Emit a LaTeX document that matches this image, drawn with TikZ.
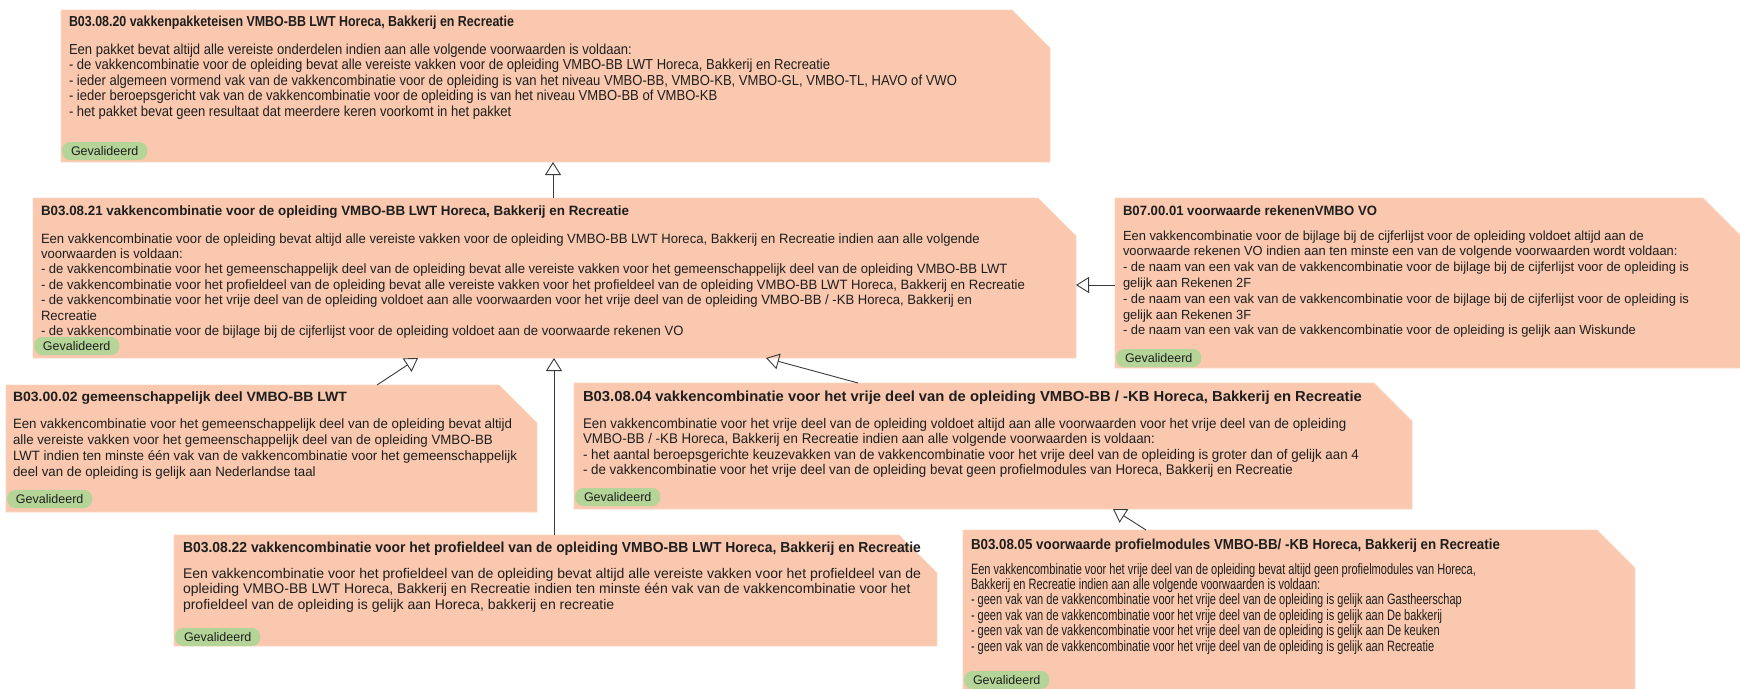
\documentclass[tikz,border=0pt]{standalone}
\usepackage{fontspec}
\setmainfont{Liberation Sans}
\usepackage{graphicx}
\usetikzlibrary{arrows.meta}
\definecolor{boxfill}{HTML}{F9C8AE}
\definecolor{boxedge}{HTML}{FBD6C3}
\definecolor{tagfill}{HTML}{B4D597}
\definecolor{txt}{HTML}{1E1E1E}
\definecolor{conncol}{HTML}{3A3A3A}
\newsavebox\fitbox
\newlength\fitlen
\newcommand\fitto[2]{\sbox\fitbox{\begin{tabular}[t]{@{}l@{}}#2\end{tabular}}\setlength\fitlen{\wd\fitbox}\pgfmathsetmacro\fitsx{#1/\fitlen}\scalebox{\fitsx}[1]{\usebox\fitbox}}
\newcommand\cutbox[1]{\filldraw[fill=boxfill,draw=boxedge,line width=0.8pt] (#1.north west) -- ([xshift=-38pt]#1.north east) -- ([yshift=-38pt]#1.north east) -- (#1.south east) -- (#1.south west) -- cycle;}
\tikzset{
 boxnode/.style={rectangle, draw=none, inner sep=0pt, outer sep=0pt, anchor=north west},
 ttl/.style={anchor=base west, inner sep=0pt, outer sep=0pt, text=txt, font=\fontsize{#1}{15.5}\selectfont\bfseries},
 bodytxt/.style 2 args={anchor=base west, inner sep=0pt, outer sep=0pt, text=txt, font=\fontsize{#1}{#2}\selectfont},
 tag/.style={rounded corners=8pt, fill=tagfill, anchor=west, minimum width=85pt, minimum height=18pt, inner sep=0pt, text=txt, font=\fontsize{12.5}{14}\selectfont},
 gen/.style={draw=conncol, line width=0.9pt, -{Triangle[open, length=13pt, width=16pt, line width=0.9pt]}},
}
\begin{document}
\begin{tikzpicture}[x=1pt,y=-1pt]
\useasboundingbox (0,0) rectangle (1740,688);
\clip (0,0) rectangle (1740,688);
% boxes
\node[boxnode, minimum width=989pt, minimum height=152pt] (b1) at (61,10) {};
\node[boxnode, minimum width=1043pt, minimum height=160pt] (b2) at (33,198) {};
\node[boxnode, minimum width=626pt, minimum height=170pt] (b3) at (1115,198) {};
\node[boxnode, minimum width=531pt, minimum height=127pt] (b4) at (6,385) {};
\node[boxnode, minimum width=838pt, minimum height=126pt] (b5) at (574,383) {};
\node[boxnode, minimum width=763pt, minimum height=111pt] (b6) at (174,535) {};
\node[boxnode, minimum width=672pt, minimum height=175pt] (b7) at (963,530) {};
\cutbox{b1}\cutbox{b2}\cutbox{b3}\cutbox{b4}\cutbox{b5}\cutbox{b6}\cutbox{b7}
% connectors
\draw[gen] ([xshift=520pt]b2.north west) -- ([xshift=492pt]b1.south west);
\draw[gen] ([yshift=-87pt]b3.north west) -- ([yshift=-87pt]b2.north east);
\draw[gen] ([xshift=371pt]b4.north west) -- ([xshift=385pt]b2.south west);
\draw[gen] ([xshift=380pt]b6.north west) -- ([xshift=521pt]b2.south west);
\draw[gen] ([xshift=284pt]b5.north west) -- ([xshift=733pt]b2.south west);
\draw[gen] ([xshift=183pt]b7.north west) -- ([xshift=539pt]b5.south west);
% box 1
\node[ttl=14.5] (t1) at (69,26) {\fitto{445}{B03.08.20 vakkenpakketeisen VMBO-BB LWT Horeca, Bakkerij en Recreatie}};
\node[bodytxt={14.5}{15.5}] (d1) at (69,54) {\fitto{888}{Een pakket bevat altijd alle vereiste onderdelen indien aan alle volgende voorwaarden is voldaan:\\
- de vakkencombinatie voor de opleiding bevat alle vereiste vakken voor de opleiding VMBO-BB LWT Horeca, Bakkerij en Recreatie\\
- ieder algemeen vormend vak van de vakkencombinatie voor de opleiding is van het niveau VMBO-BB, VMBO-KB, VMBO-GL, VMBO-TL, HAVO of VWO\\
- ieder beroepsgericht vak van de vakkencombinatie voor de opleiding is van het niveau VMBO-BB of VMBO-KB\\
- het pakket bevat geen resultaat dat meerdere keren voorkomt in het pakket}};
\node[tag] (g1) at (62,151) {Gevalideerd};
% box 2
\node[ttl=13.5] (t2) at (41,215) {\fitto{588}{B03.08.21 vakkencombinatie voor de opleiding VMBO-BB LWT Horeca, Bakkerij en Recreatie}};
\node[bodytxt={13.5}{15.4}] (d2) at (41,243) {\fitto{984}{Een vakkencombinatie voor de opleiding bevat altijd alle vereiste vakken voor de opleiding VMBO-BB LWT Horeca, Bakkerij en Recreatie indien aan alle volgende\\
voorwaarden is voldaan:\\
- de vakkencombinatie voor het gemeenschappelijk deel van de opleiding bevat alle vereiste vakken voor het gemeenschappelijk deel van de opleiding VMBO-BB LWT\\
- de vakkencombinatie voor het profieldeel van de opleiding bevat alle vereiste vakken voor het profieldeel van de opleiding VMBO-BB LWT Horeca, Bakkerij en Recreatie\\
- de vakkencombinatie voor het vrije deel van de opleiding voldoet aan alle voorwaarden voor het vrije deel van de opleiding VMBO-BB / -KB Horeca, Bakkerij en\\
Recreatie\\
- de vakkencombinatie voor de bijlage bij de cijferlijst voor de opleiding voldoet aan de voorwaarde rekenen VO}};
\node[tag] (g2) at (34,346) {Gevalideerd};
% box 3
\node[ttl=13.5] (t3) at (1123,215) {\fitto{254}{B07.00.01 voorwaarde rekenenVMBO VO}};
\node[bodytxt={13.2}{15.8}] (d3) at (1123,240) {\fitto{566}{Een vakkencombinatie voor de bijlage bij de cijferlijst voor de opleiding voldoet altijd aan de\\
voorwaarde rekenen VO indien aan ten minste een van de volgende voorwaarden wordt voldaan:\\
- de naam van een vak van de vakkencombinatie voor de bijlage bij de cijferlijst voor de opleiding is\\
gelijk aan Rekenen 2F\\
- de naam van een vak van de vakkencombinatie voor de bijlage bij de cijferlijst voor de opleiding is\\
gelijk aan Rekenen 3F\\
- de naam van een vak van de vakkencombinatie voor de opleiding is gelijk aan Wiskunde}};
\node[tag] (g3) at (1116,358) {Gevalideerd};
% box 4
\node[ttl=13.5] (t4) at (13,401) {\fitto{334}{B03.00.02 gemeenschappelijk deel VMBO-BB LWT}};
\node[bodytxt={13.5}{16}] (d4) at (13,428) {\fitto{504}{Een vakkencombinatie voor het gemeenschappelijk deel van de opleiding bevat altijd\\
alle vereiste vakken voor het gemeenschappelijk deel van de opleiding VMBO-BB\\
LWT indien ten minste één vak van de vakkencombinatie voor het gemeenschappelijk\\
deel van de opleiding is gelijk aan Nederlandse taal}};
\node[tag] (g4) at (7,499) {Gevalideerd};
% box 5
\node[ttl=14.5] (t5) at (583,401) {\fitto{779}{B03.08.04 vakkencombinatie voor het vrije deel van de opleiding VMBO-BB / -KB Horeca, Bakkerij en Recreatie}};
\node[bodytxt={14}{15.6}] (d5) at (583,428) {\fitto{776}{Een vakkencombinatie voor het vrije deel van de opleiding voldoet altijd aan alle voorwaarden voor het vrije deel van de opleiding\\
VMBO-BB / -KB Horeca, Bakkerij en Recreatie indien aan alle volgende voorwaarden is voldaan:\\
- het aantal beroepsgerichte keuzevakken van de vakkencombinatie voor het vrije deel van de opleiding is groter dan of gelijk aan 4\\
- de vakkencombinatie voor het vrije deel van de opleiding bevat geen profielmodules van Horeca, Bakkerij en Recreatie}};
\node[tag] (g5) at (575,497) {Gevalideerd};
% box 6
\node[ttl=14.5] (t6) at (183,552) {\fitto{738}{B03.08.22 vakkencombinatie voor het profieldeel van de opleiding VMBO-BB LWT Horeca, Bakkerij en Recreatie}};
\node[bodytxt={14}{15.5}] (d6) at (183,578) {\fitto{738}{Een vakkencombinatie voor het profieldeel van de opleiding bevat altijd alle vereiste vakken voor het profieldeel van de\\
opleiding VMBO-BB LWT Horeca, Bakkerij en Recreatie indien ten minste één vak van de vakkencombinatie voor het\\
profieldeel van de opleiding is gelijk aan Horeca, bakkerij en recreatie}};
\node[tag] (g6) at (175,637) {Gevalideerd};
% box 7
\node[ttl=14.5] (t7) at (971,549) {\fitto{529}{B03.08.05 voorwaarde profielmodules VMBO-BB/ -KB Horeca, Bakkerij en Recreatie}};
\node[bodytxt={15}{15.4}] (d7) at (971,574) {\fitto{505}{Een vakkencombinatie voor het vrije deel van de opleiding bevat altijd geen profielmodules van Horeca,\\
Bakkerij en Recreatie indien aan alle volgende voorwaarden is voldaan:\\
- geen vak van de vakkencombinatie voor het vrije deel van de opleiding is gelijk aan Gastheerschap\\
- geen vak van de vakkencombinatie voor het vrije deel van de opleiding is gelijk aan De bakkerij\\
- geen vak van de vakkencombinatie voor het vrije deel van de opleiding is gelijk aan De keuken\\
- geen vak van de vakkencombinatie voor het vrije deel van de opleiding is gelijk aan Recreatie}};
\node[tag] (g7) at (964,680) {Gevalideerd};
\end{tikzpicture}
\end{document}
